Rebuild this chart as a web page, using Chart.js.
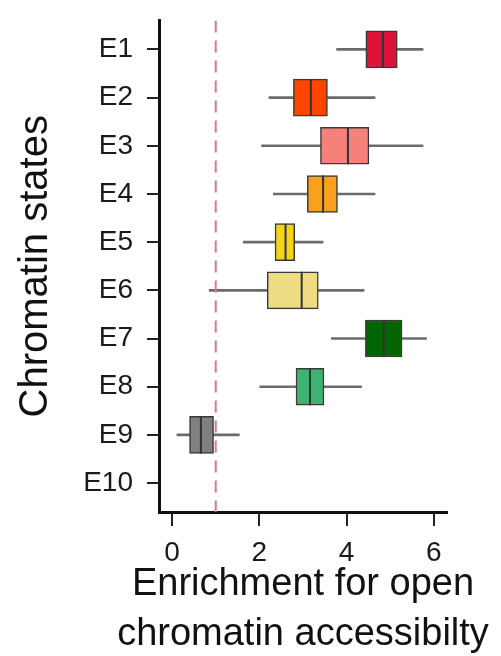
<!DOCTYPE html>
<html>
<head>
<meta charset="utf-8">
<script src="https://cdn.jsdelivr.net/npm/chart.js@4.4.1/dist/chart.umd.min.js"></script>
<style>
  html, body { margin: 0; padding: 0; background: #fff; }
  #wrap { position: relative; width: 501px; height: 656px; }
</style>
</head>
<body>
<div id="wrap"><canvas id="graph_1"></canvas></div>
<script>
// chromatin states, top to bottom
var states = ['E1', 'E2', 'E3', 'E4', 'E5', 'E6', 'E7', 'E8', 'E9', 'E10'];
// box plot statistics per state (E10 has no data)
var whiskerLow  = [3.77, 2.22, 2.05, 2.32, 1.63, 0.85, 3.65, 2.01, 0.11, null];
var q1          = [4.44, 2.78, 3.40, 3.10, 2.36, 2.18, 4.43, 2.84, 0.40, null];
var medians     = [4.83, 3.18, 4.03, 3.46, 2.60, 2.97, 4.85, 3.16, 0.66, null];
var q3          = [5.16, 3.56, 4.51, 3.79, 2.81, 3.35, 5.27, 3.48, 0.95, null];
var whiskerHigh = [5.75, 4.65, 5.75, 4.65, 3.46, 4.40, 5.83, 4.34, 1.54, null];
var boxColors = ['#DC143C', '#FF4500', '#F4827A', '#F9A11B', '#F2D51B',
                 '#EEDC82', '#006400', '#3CB371', '#808080', '#cccccc'];
var xTicks = [0, 2, 4, 6];
var threshold = 1;
var xTitle = ['Enrichment for open', 'chromatin accessibilty'];
var yTitle = 'Chromatin states';

var FONT = "'Liberation Sans', Arial, Helvetica, sans-serif";

// only states that have a box
var idx = states.map(function (s, i) { return i; }).filter(function (i) { return medians[i] !== null; });

// x title drawn by hand: the scale title gets squeezed to the plot width
var xTitlePlugin = {
    id: 'xTitle',
    afterDraw: function (chart) {
        var c = chart.ctx, area = chart.chartArea;
        c.save();
        c.font = '38px ' + FONT;
        c.fillStyle = '#111';
        c.textAlign = 'center';
        c.textBaseline = 'alphabetic';
        var cx = (area.left + area.right) / 2;
        xTitle.forEach(function (line, i) {
            c.fillText(line, cx, 595 + i * 50);
        });
        c.restore();
    }
};

var ctx = document.getElementById('graph_1');
var chart = new Chart(ctx, {
    type: 'bar',
    data: {
        datasets: [
            {
                // whiskers
                label: 'whisker',
                data: idx.map(function (i) { return { y: i + 1, x: [whiskerLow[i], whiskerHigh[i]] }; }),
                backgroundColor: '#6b6b6b',
                barThickness: 2,
                order: 4
            },
            {
                // boxes
                label: 'box',
                data: idx.map(function (i) { return { y: i + 1, x: [q1[i], q3[i]] }; }),
                backgroundColor: idx.map(function (i) { return boxColors[i]; }),
                borderColor: '#3a3a3a',
                borderWidth: 1.5,
                borderSkipped: false,
                barThickness: 37,
                order: 3
            },
            {
                // medians
                type: 'scatter',
                label: 'median',
                data: idx.map(function (i) { return { x: medians[i], y: i + 1 }; }),
                pointStyle: 'line',
                pointRotation: 90,
                pointRadius: 18.5,
                pointBorderColor: '#333333',
                pointBorderWidth: 2,
                order: 2
            },
            {
                // reference line at enrichment = 1
                type: 'line',
                label: 'threshold',
                data: [{ x: threshold, y: 0.4 }, { x: threshold, y: states.length + 0.6 }],
                borderColor: '#d9798f',
                borderWidth: 2,
                borderDash: [12, 8],
                pointRadius: 0,
                order: 1
            }
        ]
    },
    options: {
        indexAxis: 'y',
        responsive: true,
        maintainAspectRatio: false,
        animation: false,
        datasets: { bar: { grouped: false } },
        layout: { padding: { left: 0, right: 54, top: 14, bottom: 0 } },
        plugins: { legend: { display: false }, tooltip: { enabled: false } },
        scales: {
            x: {
                type: 'linear',
                min: -0.3,
                max: 6.3,
                afterBuildTicks: function (s) { s.ticks = xTicks.map(function (v) { return { value: v }; }); },
                afterFit: function (s) { s.height = 144; s.paddingLeft = 0; s.paddingRight = 0; },
                grid: { drawOnChartArea: false, drawTicks: true, tickLength: 14, color: '#222', lineWidth: 2 },
                border: { display: true, color: '#111', width: 3 },
                ticks: { padding: 10, color: '#1a1a1a', font: { family: FONT, size: 28 } }
            },
            y: {
                type: 'linear',
                reverse: true,
                offset: false,
                min: 0.4,
                max: states.length + 0.6,
                afterBuildTicks: function (s) { s.ticks = states.map(function (c, i) { return { value: i + 1 }; }); },
                afterFit: function (s) { s.width = 159; s.paddingTop = 0; s.paddingBottom = 0; },
                grid: { offset: false, drawOnChartArea: false, drawTicks: true, tickLength: 12, color: '#222', lineWidth: 2 },
                border: { display: true, color: '#111', width: 3 },
                ticks: {
                    padding: 14,
                    color: '#1a1a1a',
                    font: { family: FONT, size: 28 },
                    callback: function (v) { return states[v - 1]; }
                },
                title: {
                    display: true,
                    text: yTitle,
                    color: '#111',
                    font: { family: FONT, size: 40 },
                    padding: { top: 12, bottom: 0 }
                }
            }
        }
    },
    plugins: [xTitlePlugin]
});
</script>
</body>
</html>
